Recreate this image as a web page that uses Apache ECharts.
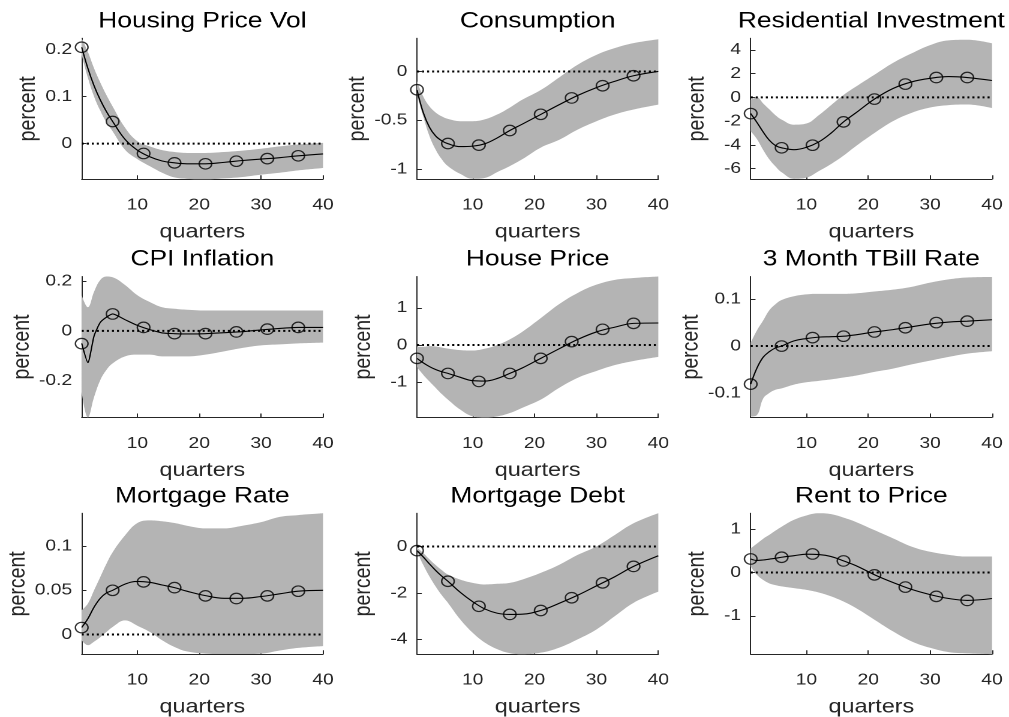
<!DOCTYPE html>
<html>
<head>
<meta charset="utf-8">
<script src="https://cdn.jsdelivr.net/npm/echarts@6.0.0/dist/echarts.min.js"></script>
<style>
  html, body { margin: 0; padding: 0; background: #fff; overflow: hidden; }
  /* the original figure is stretched sideways, so draw narrow and scale */
  #chart { width: 841px; height: 717px; transform: scaleX(1.19976); transform-origin: 0 0; }
</style>
</head>
<body>
<div id="chart"></div>
<script>
  const quarters = [1, 2, 3, 4, 5, 6, 8, 10, 12, 14, 16, 18, 21, 24, 27, 30, 33, 36, 40];
  const markerQuarters = [1, 6, 11, 16, 21, 26, 31, 36];
  const xTicks = [10, 20, 30, 40];

  // Housing Price Vol
  const hpvMid = [0.205, 0.16, 0.123, 0.093, 0.068, 0.047, 0.009, -0.014, -0.028, -0.037, -0.041, -0.043, -0.043, -0.040, -0.036, -0.033, -0.030, -0.026, -0.022];
  const hpvLo = [0.189, 0.14, 0.1, 0.07, 0.045, 0.026, -0.013, -0.033, -0.048, -0.062, -0.072, -0.075, -0.076, -0.074, -0.071, -0.066, -0.062, -0.057, -0.052];
  const hpvHi = [0.224, 0.195, 0.16, 0.13, 0.103, 0.079, 0.034, 0.005, -0.006, -0.014, -0.018, -0.02, -0.02, -0.018, -0.015, -0.011, -0.006, -0.002, 0.0015];
  const hpvMark = [0.205, 0.047, -0.021, -0.041, -0.043, -0.0375, -0.032, -0.026];
  const hpvRange = [-0.076, 0.224];
  const hpvTicks = [0, 0.1, 0.2];

  // Consumption
  const conMid = [-0.19, -0.42, -0.57, -0.66, -0.71, -0.74, -0.77, -0.765, -0.74, -0.68, -0.605, -0.54, -0.44, -0.34, -0.245, -0.165, -0.1, -0.044, 0.0];
  const conLo = [-0.24, -0.46, -0.66, -0.80, -0.9, -0.97, -1.05, -1.1, -1.09, -1.03, -0.97, -0.9, -0.78, -0.70, -0.595, -0.51, -0.44, -0.39, -0.34];
  const conHi = [-0.1, -0.255, -0.357, -0.42, -0.46, -0.486, -0.51, -0.51, -0.49, -0.44, -0.37, -0.29, -0.19, -0.06, 0.07, 0.17, 0.24, 0.29, 0.33];
  const conMark = [-0.187, -0.738, -0.755, -0.605, -0.439, -0.271, -0.146, -0.044];
  const conRange = [-1.105, 0.34];
  const conTicks = [-1, -0.5, 0];

  // Residential Investment
  const resMid = [-1.36, -2.1, -2.9, -3.6, -4.05, -4.24, -4.4, -4.2, -3.75, -3.0, -2.06, -1.3, -0.14, 0.75, 1.3, 1.6, 1.75, 1.67, 1.42];
  const resLo = [-2.85, -3.5, -4.4, -5.2, -5.8, -6.3, -6.85, -6.75, -6.2, -5.6, -4.9, -4.1, -3.0, -2.0, -1.3, -0.85, -0.65, -0.6, -0.9];
  const resHi = [-0.2, 0.0, -0.5, -1.0, -1.5, -1.87, -2.3, -2.2, -1.5, -0.65, 0.2, 0.9, 1.9, 2.9, 3.7, 4.4, 4.8, 4.85, 4.55];
  const resMark = [-1.36, -4.24, -4.02, -2.06, -0.14, 1.12, 1.67, 1.67];
  const resRange = [-6.89, 4.97];
  const resTicks = [-6, -4, -2, 0, 2, 4];

  // CPI Inflation
  const cpiMid = [-0.05, -0.127, -0.02, 0.034, 0.055, 0.068, 0.045, 0.022, 0.005, -0.008, -0.011, -0.012, -0.011, -0.007, -0.003, 0.004, 0.01, 0.014, 0.014];
  const cpiLo = [-0.245, -0.347, -0.265, -0.197, -0.156, -0.13, -0.102, -0.095, -0.095, -0.102, -0.102, -0.102, -0.095, -0.082, -0.068, -0.058, -0.054, -0.05, -0.047];
  const cpiHi = [0.143, 0.095, 0.157, 0.204, 0.218, 0.215, 0.184, 0.143, 0.116, 0.095, 0.089, 0.085, 0.082, 0.082, 0.082, 0.082, 0.082, 0.082, 0.082];
  const cpiMark = [-0.051, 0.068, 0.014, -0.011, -0.011, -0.004, 0.007, 0.014];
  const cpiRange = [-0.347, 0.218];
  const cpiTicks = [-0.2, 0, 0.2];

  // House Price
  const hpMid = [-0.36, -0.48, -0.58, -0.66, -0.72, -0.765, -0.87, -0.96, -0.97, -0.9, -0.765, -0.62, -0.36, -0.1, 0.15, 0.35, 0.48, 0.58, 0.59];
  const hpLo = [-0.6, -0.8, -0.98, -1.15, -1.32, -1.47, -1.74, -1.92, -1.95, -1.92, -1.83, -1.69, -1.47, -1.15, -0.88, -0.7, -0.54, -0.43, -0.32];
  const hpHi = [-0.05, -0.05, -0.03, -0.04, -0.07, -0.1, -0.14, -0.15, -0.1, 0.0, 0.15, 0.35, 0.72, 1.1, 1.4, 1.62, 1.75, 1.8, 1.84];
  const hpMark = [-0.36, -0.765, -0.98, -0.765, -0.36, 0.09, 0.42, 0.58];
  const hpRange = [-1.95, 1.84];
  const hpTicks = [-1, 0, 1];

  // 3 Month TBill Rate
  const tbMid = [-0.081, -0.047, -0.024, -0.012, -0.004, 0.0, 0.011, 0.016, 0.019, 0.02, 0.021, 0.024, 0.03, 0.035, 0.041, 0.047, 0.051, 0.053, 0.056];
  const tbLo = [-0.15, -0.147, -0.112, -0.1, -0.093, -0.09, -0.082, -0.077, -0.074, -0.071, -0.067, -0.063, -0.055, -0.048, -0.039, -0.031, -0.023, -0.016, -0.011];
  const tbHi = [0.007, 0.033, 0.054, 0.076, 0.089, 0.098, 0.106, 0.11, 0.111, 0.111, 0.111, 0.112, 0.116, 0.12, 0.126, 0.135, 0.142, 0.146, 0.147];
  const tbMark = [-0.081, 0.0, 0.018, 0.021, 0.03, 0.039, 0.05, 0.053];
  const tbRange = [-0.152, 0.148];
  const tbTicks = [-0.1, 0, 0.1];

  // Mortgage Rate
  const mrMid = [0.008, 0.018, 0.031, 0.041, 0.047, 0.05, 0.057, 0.06, 0.059, 0.056, 0.053, 0.049, 0.044, 0.041, 0.041, 0.043, 0.046, 0.049, 0.05];
  const mrLo = [-0.0064, -0.012, -0.008, -0.003, 0.003, 0.0086, 0.016, 0.01, 0.003, -0.0064, -0.014, -0.019, -0.0215, -0.022, -0.022, -0.0215, -0.018, -0.015, -0.013];
  const mrHi = [0.0275, 0.035, 0.05, 0.065, 0.08, 0.093, 0.112, 0.126, 0.129, 0.128, 0.126, 0.123, 0.12, 0.12, 0.123, 0.127, 0.133, 0.135, 0.137];
  const mrMark = [0.0079, 0.05, 0.0595, 0.053, 0.0437, 0.0407, 0.0437, 0.049];
  const mrRange = [-0.0223, 0.137];
  const mrTicks = [0, 0.05, 0.1];

  // Mortgage Debt
  const mdMid = [-0.18, -0.45, -0.75, -1.03, -1.28, -1.5, -1.98, -2.38, -2.7, -2.88, -2.93, -2.92, -2.76, -2.45, -2.1, -1.7, -1.3, -0.86, -0.4];
  const mdLo = [-0.21, -0.79, -1.29, -1.72, -2.1, -2.43, -3.15, -3.72, -4.15, -4.43, -4.6, -4.65, -4.58, -4.36, -4.0, -3.58, -3.0, -2.43, -1.95];
  const mdHi = [-0.05, -0.28, -0.55, -0.8, -1.02, -1.21, -1.43, -1.57, -1.64, -1.61, -1.57, -1.43, -1.14, -0.79, -0.36, 0.0, 0.5, 1.0, 1.43];
  const mdMark = [-0.18, -1.5, -2.58, -2.93, -2.76, -2.21, -1.57, -0.86];
  const mdRange = [-4.65, 1.43];
  const mdTicks = [-4, -2, 0];

  // Rent to Price
  const rpMid = [0.315, 0.28, 0.29, 0.31, 0.33, 0.354, 0.39, 0.425, 0.415, 0.37, 0.27, 0.16, -0.05, -0.23, -0.39, -0.51, -0.6, -0.644, -0.6];
  const rpLo = [0.14, -0.05, -0.17, -0.25, -0.29, -0.32, -0.36, -0.4, -0.46, -0.55, -0.67, -0.82, -1.09, -1.36, -1.59, -1.74, -1.84, -1.87, -1.89];
  const rpHi = [0.56, 0.67, 0.78, 0.87, 0.97, 1.06, 1.22, 1.32, 1.37, 1.35, 1.27, 1.17, 0.98, 0.79, 0.6, 0.48, 0.41, 0.37, 0.37];
  const rpMark = [0.315, 0.354, 0.43, 0.269, -0.053, -0.336, -0.55, -0.644];
  const rpRange = [-1.89, 1.37];
  const rpTicks = [-1, 0, 1];

  const panels = [
    { title: 'Housing Price Vol', mid: hpvMid, lo: hpvLo, hi: hpvHi, mark: hpvMark, range: hpvRange, ticks: hpvTicks },
    { title: 'Consumption', mid: conMid, lo: conLo, hi: conHi, mark: conMark, range: conRange, ticks: conTicks },
    { title: 'Residential Investment', mid: resMid, lo: resLo, hi: resHi, mark: resMark, range: resRange, ticks: resTicks },
    { title: 'CPI Inflation', mid: cpiMid, lo: cpiLo, hi: cpiHi, mark: cpiMark, range: cpiRange, ticks: cpiTicks },
    { title: 'House Price', mid: hpMid, lo: hpLo, hi: hpHi, mark: hpMark, range: hpRange, ticks: hpTicks },
    { title: '3 Month TBill Rate', mid: tbMid, lo: tbLo, hi: tbHi, mark: tbMark, range: tbRange, ticks: tbTicks },
    { title: 'Mortgage Rate', mid: mrMid, lo: mrLo, hi: mrHi, mark: mrMark, range: mrRange, ticks: mrTicks },
    { title: 'Mortgage Debt', mid: mdMid, lo: mdLo, hi: mdHi, mark: mdMark, range: mdRange, ticks: mdTicks },
    { title: 'Rent to Price', mid: rpMid, lo: rpLo, hi: rpHi, mark: rpMark, range: rpRange, ticks: rpTicks }
  ];

  // layout, in page pixels (before the sideways stretch)
  const S = 1009 / 841;
  const colLeft = [81.7, 417, 750.7];
  const rowTop = [38.3, 276.5, 513.3];
  const plotW = 241.3;
  const plotH = 141;
  const axisColor = '#262626';

  const myChart = echarts.init(document.getElementById('chart'), null, { devicePixelRatio: 2 });

  let grid = [], xAxis = [], yAxis = [], series = [], graphic = [];

  panels.forEach((p, i) => {
    const r = Math.floor(i / 3), c = i % 3;
    grid.push({
      left: colLeft[c] / S, top: rowTop[r], width: plotW / S, height: plotH,
      containLabel: false, outerBoundsMode: 'none'
    });
    xAxis.push({
      gridIndex: i, type: 'value', min: 1, max: 40,
      name: 'quarters', nameLocation: 'middle', nameGap: 43,
      nameTextStyle: { fontSize: 19.5, color: axisColor },
      axisLine: { show: true, onZero: false, lineStyle: { color: axisColor, width: 1 } },
      axisTick: { show: true, inside: true, length: 4, customValues: xTicks, lineStyle: { color: axisColor } },
      axisLabel: { customValues: xTicks, margin: 18, fontSize: 16, color: axisColor },
      splitLine: { show: false }
    });
    yAxis.push({
      gridIndex: i, type: 'value', min: p.range[0], max: p.range[1],
      name: 'percent', nameLocation: 'middle', nameGap: 34.5, nameRotate: 90,
      nameTextStyle: { fontSize: 19.5, color: axisColor },
      axisLine: { show: true, onZero: false, lineStyle: { color: axisColor, width: 1 } },
      axisTick: { show: true, inside: true, length: 4, customValues: p.ticks, lineStyle: { color: axisColor } },
      axisLabel: { customValues: p.ticks, margin: 8, fontSize: 16, color: axisColor },
      splitLine: { show: false }
    });

    // confidence band: lower edge plus stacked width.
    // value goes in column 0 so the stack runs along y, not along quarters
    series.push({
      type: 'line', xAxisIndex: i, yAxisIndex: i, z: 1,
      stack: 'band' + i, stackStrategy: 'all',
      encode: { x: 1, y: 0 },
      data: quarters.map((q, k) => [p.lo[k], q]),
      smooth: 0.4, symbol: 'none', silent: true,
      lineStyle: { opacity: 0 }
    });
    series.push({
      type: 'line', xAxisIndex: i, yAxisIndex: i, z: 1,
      stack: 'band' + i, stackStrategy: 'all',
      encode: { x: 1, y: 0 },
      data: quarters.map((q, k) => [p.hi[k] - p.lo[k], q]),
      smooth: 0.4, symbol: 'none', silent: true,
      lineStyle: { opacity: 0 },
      areaStyle: { color: '#b4b4b4', opacity: 1 }
    });
    // zero line
    series.push({
      type: 'line', xAxisIndex: i, yAxisIndex: i, z: 2,
      data: [[1, 0], [40, 0]], symbol: 'none', silent: true,
      lineStyle: { color: '#000', width: 2, type: [1.7, 2.5] }
    });
    // response
    series.push({
      type: 'line', xAxisIndex: i, yAxisIndex: i, z: 3,
      data: quarters.map((q, k) => [q, p.mid[k]]),
      smooth: i === 3 ? 0.2 : 0.4, symbol: 'none', silent: true,
      lineStyle: { color: '#000', width: 1.1 }
    });
    series.push({
      type: 'scatter', xAxisIndex: i, yAxisIndex: i, z: 4,
      data: markerQuarters.map((q, k) => [q, p.mark[k]]),
      symbol: 'circle', symbolSize: 10.5, silent: true,
      itemStyle: { color: 'rgba(0,0,0,0)', borderColor: '#000', borderWidth: 1.2 }
    });

    graphic.push({
      type: 'text',
      x: (colLeft[c] + plotW / 2) / S,
      y: rowTop[r] - 17,
      style: {
        text: p.title, fill: '#000', fontSize: 22,
        fontFamily: 'Liberation Sans, Arial, sans-serif',
        align: 'center', verticalAlign: 'middle'
      }
    });
  });

  myChart.setOption({
    animation: false,
    backgroundColor: '#fff',
    textStyle: { fontFamily: 'Liberation Sans, Arial, sans-serif' },
    grid: grid,
    xAxis: xAxis,
    yAxis: yAxis,
    series: series,
    graphic: graphic
  });
</script>
</body>
</html>
